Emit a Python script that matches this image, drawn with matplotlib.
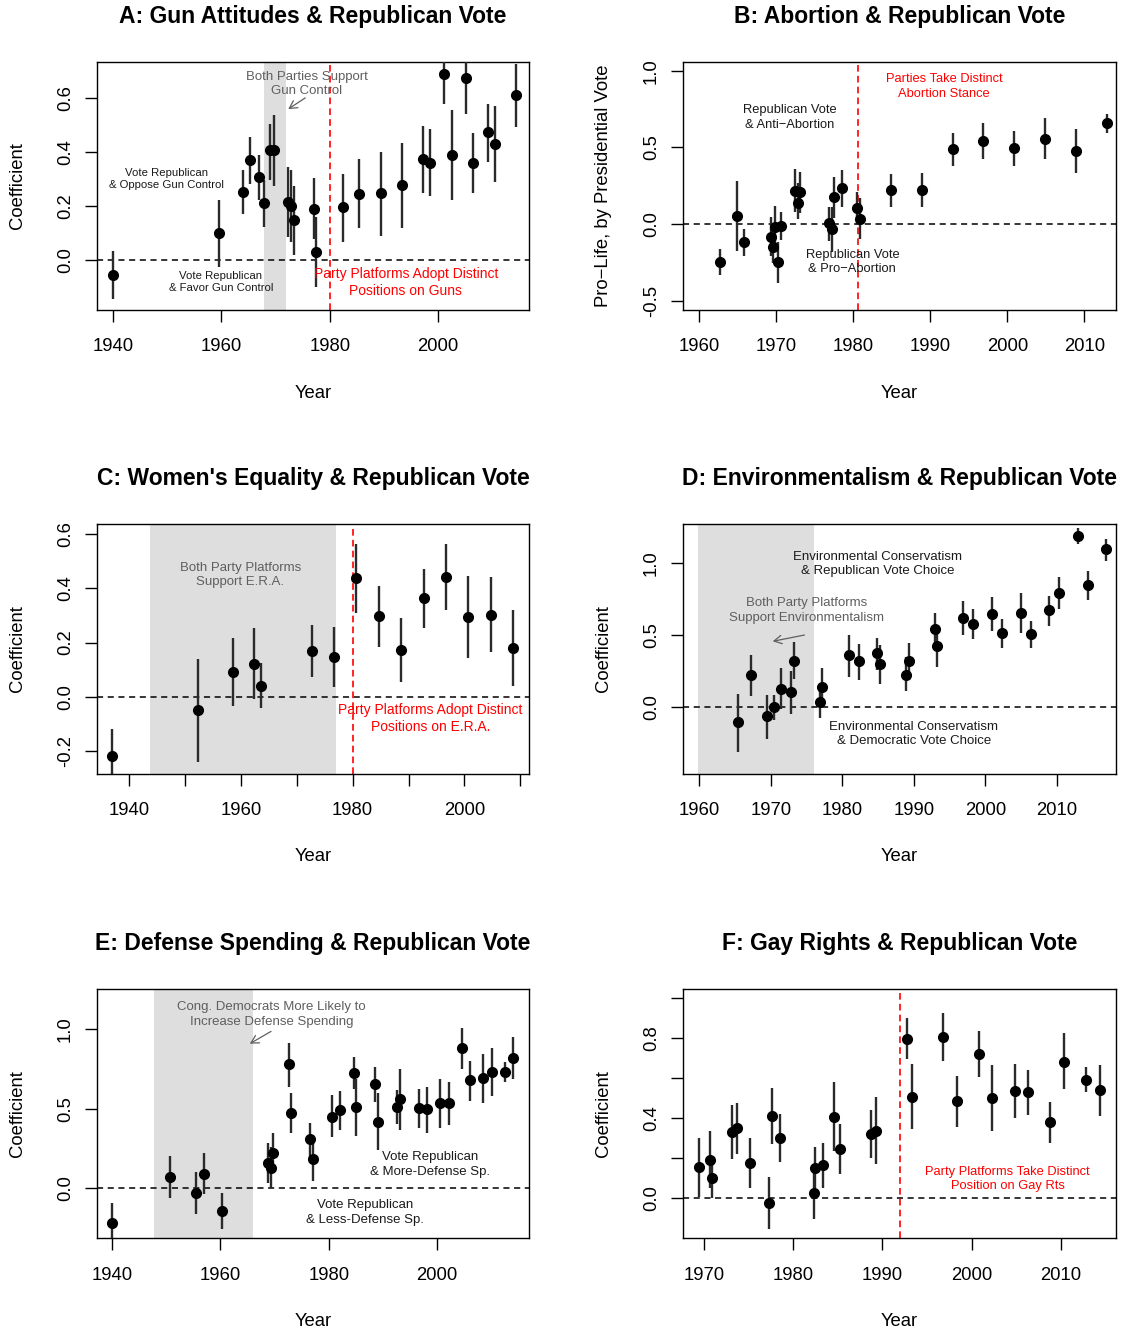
import matplotlib
matplotlib.use("Agg")
import matplotlib.pyplot as plt

plt.rcParams['font.family'] = ['Liberation Sans', 'DejaVu Sans']
plt.rcParams['axes.unicode_minus'] = False

# ---------------- Data ----------------
# A: Gun attitudes
yearsA = [1940, 1959.6, 1964, 1965.3, 1966.9, 1967.8, 1969, 1969.7, 1972.3, 1972.9, 1973.4, 1977.1, 1977.4,
          1982.4, 1985.4, 1989.4, 1993.4, 1997.1, 1998.5, 2001.1, 2002.5, 2005.2, 2006.4, 2009.2, 2010.5, 2014.4]
coefA = [-0.054, 0.10, 0.253, 0.370, 0.306, 0.211, 0.406, 0.408, 0.217, 0.201, 0.147, 0.189, 0.032,
         0.196, 0.246, 0.247, 0.278, 0.374, 0.360, 0.690, 0.389, 0.673, 0.360, 0.473, 0.430, 0.610]
loA = [-0.145, -0.024, 0.171, 0.283, 0.221, 0.124, 0.297, 0.275, 0.085, 0.069, 0.020, 0.078, -0.098,
       0.069, 0.118, 0.091, 0.121, 0.250, 0.236, 0.578, 0.223, 0.542, 0.250, 0.365, 0.288, 0.491]
hiA = [0.034, 0.223, 0.332, 0.455, 0.389, 0.297, 0.505, 0.538, 0.344, 0.332, 0.273, 0.304, 0.161,
       0.320, 0.374, 0.400, 0.433, 0.497, 0.485, 0.80, 0.554, 0.80, 0.470, 0.578, 0.572, 0.727]

# B: Abortion
yearsB = [1962.7, 1965.0, 1965.9, 1969.3, 1969.6, 1969.9, 1970.3, 1970.6, 1972.5, 1972.9, 1973.1, 1976.9, 1977.2,
          1977.5, 1978.5, 1980.5, 1980.9, 1984.9, 1988.9, 1992.9, 1996.9, 2000.9, 2004.9, 2008.9, 2012.9]
coefB = [-0.246, 0.054, -0.120, -0.083, -0.152, -0.017, -0.250, -0.011, 0.217, 0.139, 0.207, 0.004, -0.035,
         0.174, 0.233, 0.104, 0.035, 0.220, 0.220, 0.487, 0.543, 0.494, 0.554, 0.478, 0.659]
loB = [-0.331, -0.174, -0.209, -0.209, -0.257, -0.170, -0.387, -0.104, 0.080, 0.031, 0.070, -0.109, -0.181,
       0.037, 0.109, -0.007, -0.100, 0.113, 0.109, 0.380, 0.424, 0.380, 0.422, 0.335, 0.596]
hiB = [-0.163, 0.283, -0.033, 0.044, -0.057, 0.117, -0.119, 0.078, 0.357, 0.265, 0.339, 0.113, 0.113,
       0.309, 0.352, 0.211, 0.168, 0.326, 0.331, 0.592, 0.661, 0.609, 0.689, 0.620, 0.716]

# C: Women's equality
yearsC = [1936.9, 1952.4, 1958.5, 1962.4, 1963.6, 1972.7, 1976.7, 1980.6, 1984.7, 1988.7, 1992.7, 1996.7,
          2000.6, 2004.7, 2008.7]
coefC = [-0.219, -0.050, 0.091, 0.122, 0.041, 0.169, 0.147, 0.438, 0.297, 0.174, 0.364, 0.444, 0.295, 0.303, 0.181]
loC = [-0.32, -0.243, -0.034, -0.010, -0.041, 0.073, 0.037, 0.308, 0.185, 0.055, 0.253, 0.322, 0.144, 0.164, 0.040]
hiC = [-0.119, 0.139, 0.216, 0.255, 0.123, 0.265, 0.258, 0.566, 0.408, 0.290, 0.472, 0.566, 0.445, 0.443, 0.320]

# D: Environmentalism
yearsD = [1965.4, 1967.2, 1969.5, 1970.5, 1971.4, 1972.9, 1973.3, 1976.9, 1977.2, 1980.9, 1982.3, 1984.9, 1985.3,
          1988.9, 1989.3, 1992.9, 1993.3, 1996.9, 1998.3, 2000.9, 2002.3, 2004.9, 2006.3, 2008.9, 2010.3, 2012.9,
          2014.3, 2016.9]
coefD = [-0.104, 0.222, -0.062, 0.0, 0.127, 0.104, 0.323, 0.035, 0.141, 0.360, 0.319, 0.374, 0.298, 0.226, 0.319,
         0.545, 0.423, 0.619, 0.577, 0.647, 0.515, 0.653, 0.508, 0.672, 0.792, 1.185, 0.845, 1.093]
loD = [-0.310, 0.078, -0.219, -0.090, -0.009, -0.049, 0.194, -0.074, 0.014, 0.210, 0.189, 0.256, 0.164, 0.116,
       0.187, 0.435, 0.279, 0.499, 0.471, 0.527, 0.411, 0.511, 0.411, 0.563, 0.679, 1.128, 0.741, 1.012]
hiD = [0.095, 0.360, 0.083, 0.088, 0.272, 0.249, 0.453, 0.134, 0.275, 0.499, 0.441, 0.483, 0.430, 0.348, 0.443,
       0.651, 0.545, 0.735, 0.679, 0.764, 0.610, 0.788, 0.596, 0.771, 0.899, 1.238, 0.942, 1.164]

# E: Defense spending
yearsE = [1940, 1950.8, 1955.6, 1957.0, 1960.3, 1968.8, 1969.3, 1969.8, 1972.6, 1973.1, 1976.6, 1977.1, 1980.6,
          1982.1, 1984.6, 1985.1, 1988.6, 1989.1, 1992.6, 1993.1, 1996.6, 1998.1, 2000.5, 2002.1, 2004.6, 2006.1,
          2008.5, 2010.1, 2012.5, 2014.0]
coefE = [-0.216, 0.069, -0.027, 0.092, -0.143, 0.157, 0.126, 0.224, 0.780, 0.476, 0.310, 0.182, 0.451, 0.492,
         0.723, 0.509, 0.654, 0.419, 0.509, 0.560, 0.503, 0.497, 0.535, 0.535, 0.881, 0.681, 0.694, 0.733, 0.733,
         0.818]
loE = [-0.34, -0.063, -0.164, -0.036, -0.258, 0.031, 0.0, 0.094, 0.635, 0.346, 0.178, 0.048, 0.321, 0.367, 0.623,
       0.331, 0.545, 0.241, 0.404, 0.367, 0.381, 0.346, 0.381, 0.398, 0.748, 0.551, 0.538, 0.583, 0.671, 0.686]
hiE = [-0.094, 0.203, 0.101, 0.220, -0.027, 0.283, 0.262, 0.350, 0.916, 0.601, 0.413, 0.314, 0.585, 0.612, 0.828,
       0.686, 0.761, 0.598, 0.618, 0.748, 0.625, 0.639, 0.686, 0.667, 1.006, 0.801, 0.845, 0.881, 0.792, 0.950]

# F: Gay rights
yearsF = [1969.5, 1970.7, 1970.9, 1973.2, 1973.7, 1975.2, 1977.3, 1977.6, 1978.5, 1982.3, 1982.5, 1983.4, 1984.6,
          1985.2, 1988.7, 1989.3, 1992.8, 1993.3, 1996.8, 1998.3, 2000.8, 2002.3, 2004.8, 2006.3, 2008.8, 2010.3,
          2012.8, 2014.3]
coefF = [0.152, 0.188, 0.097, 0.328, 0.348, 0.173, -0.027, 0.410, 0.300, 0.022, 0.147, 0.162, 0.405, 0.245, 0.317,
         0.335, 0.795, 0.505, 0.805, 0.483, 0.718, 0.498, 0.532, 0.527, 0.378, 0.680, 0.590, 0.537]
loF = [0.005, 0.047, -0.003, 0.193, 0.218, 0.050, -0.158, 0.268, 0.177, -0.107, 0.022, 0.050, 0.235, 0.118, 0.197,
       0.168, 0.692, 0.345, 0.685, 0.355, 0.605, 0.333, 0.397, 0.413, 0.275, 0.542, 0.530, 0.410]
hiF = [0.297, 0.333, 0.180, 0.463, 0.475, 0.297, 0.102, 0.550, 0.418, 0.125, 0.255, 0.272, 0.577, 0.368, 0.438,
       0.502, 0.897, 0.667, 0.922, 0.608, 0.833, 0.663, 0.667, 0.638, 0.480, 0.822, 0.652, 0.662]

titles = ["A: Gun Attitudes & Republican Vote", "B: Abortion & Republican Vote",
          "C: Women's Equality & Republican Vote", "D: Environmentalism & Republican Vote",
          "E: Defense Spending & Republican Vote", "F: Gay Rights & Republican Vote"]
ylabels = ["Coefficient", "Pro\u2212Life, by Presidential Vote", "Coefficient", "Coefficient",
           "Coefficient", "Coefficient"]

# ---------------- Figure ----------------
W, H = 1125, 1329
fig = plt.figure(figsize=(W / 100, H / 100), dpi=100)

cols_px = [(96.7, 529.3), (682.7, 1115.7)]
rows_px = [(61.7, 310.0), (524.3, 773.7), (989.3, 1238.3)]


def make_ax(r, c):
    x0, x1 = cols_px[c]
    y0, y1 = rows_px[r]
    return fig.add_axes([x0 / W, 1 - y1 / H, (x1 - x0) / W, (y1 - y0) / H])


GRAY_TXT = '#5f5f5f'
ERR_COL = '#2a2a2a'
LS = 1.3


def panel(ax, years, coef, lo, hi, xlim, ylim, xticks, xtl, yticks, ytl, title, ylabel,
          band=None, vline=None):
    if band is not None:
        ax.axvspan(band[0], band[1], color='#dedede', lw=0, zorder=0)
    ax.axhline(0, color='black', lw=1.1, ls=(0, (4, 3)), zorder=1)
    if vline is not None:
        ax.axvline(vline, color='#ff0000', lw=1.2, ls=(0, (4, 2.5)), zorder=1)
    ax.vlines(years, lo, hi, color=ERR_COL, lw=1.7, zorder=3)
    ax.plot(years, coef, 'o', color='black', ms=7, zorder=4)
    ax.set_xlim(*xlim)
    ax.set_ylim(*ylim)
    ax.set_xticks(xticks)
    ax.set_xticklabels(xtl)
    ax.set_yticks(yticks)
    ax.set_yticklabels(ytl, rotation=90, va='center')
    ax.tick_params(axis='both', direction='out', length=8.4, width=1, labelsize=13.3, color='black')
    ax.tick_params(axis='x', pad=12)
    ax.tick_params(axis='y', pad=8)
    for s in ax.spines.values():
        s.set_linewidth(1.0)
    ax.set_title(title, fontsize=16.5, fontweight='bold', pad=28)
    ax.set_xlabel("Year", fontsize=13.3, labelpad=21)
    ax.set_ylabel(ylabel, fontsize=13.3)
    ax.yaxis.set_label_coords(-0.163, 0.5)


def fmt(vals):
    return [("%.1f" % v) for v in vals]


# A
axA = make_ax(0, 0)
panel(axA, yearsA, coefA, loA, hiA, (1937.0, 2016.8), (-0.184, 0.734),
      [1940, 1960, 1980, 2000], ["1940", "1960", "1980", "2000"],
      [0.0, 0.2, 0.4, 0.6], fmt([0.0, 0.2, 0.4, 0.6]), titles[0], ylabels[0],
      band=(1967.8, 1972.0), vline=1980.0)
axA.text(1975.8, 0.652, "Both Parties Support\nGun Control", ha='center', va='center', fontsize=9.5,
         color=GRAY_TXT, linespacing=LS, zorder=5)
axA.annotate("", xy=(1971.9, 0.553), xytext=(1975.9, 0.606),
             arrowprops=dict(arrowstyle='->,head_length=0.55,head_width=0.3', color=GRAY_TXT, lw=0.9))
axA.text(1949.9, 0.301, "Vote Republican\n& Oppose Gun Control", ha='center', va='center', fontsize=8.2,
         color='#1a1a1a', linespacing=LS)
axA.text(1959.9, -0.080, "Vote Republican\n& Favor Gun Control", ha='center', va='center', fontsize=8.2,
         color='#1a1a1a', linespacing=LS)
axA.text(1994.0, -0.082, "Party Platforms Adopt Distinct\nPositions on Guns", ha='center', va='center',
         fontsize=10, color='#ff0000', linespacing=LS, zorder=5)

# B
axB = make_ax(0, 1)
panel(axB, yearsB, coefB, loB, hiB, (1957.9, 2014.05), (-0.561, 1.059),
      [1960, 1970, 1980, 1990, 2000, 2010], ["1960", "1970", "1980", "1990", "2000", "2010"],
      [-0.5, 0.0, 0.5, 1.0], fmt([-0.5, 0.0, 0.5, 1.0]), titles[1], ylabels[1],
      vline=1980.6)
axB.text(1971.8, 0.696, "Republican Vote\n& Anti\u2212Abortion", ha='center', va='center', fontsize=9.3,
         color='#1a1a1a', linespacing=LS)
axB.text(1991.8, 0.898, "Parties Take Distinct\nAbortion Stance", ha='center', va='center', fontsize=9.3,
         color='#ff0000', linespacing=LS)
axB.text(1979.9, -0.248, "Republican Vote\n& Pro\u2212Abortion", ha='center', va='center', fontsize=9.3,
         color='#1a1a1a', linespacing=LS, zorder=5)

# C
axC = make_ax(1, 0)
ticksC = [1940, 1950, 1960, 1970, 1980, 1990, 2000, 2010]
panel(axC, yearsC, coefC, loC, hiC, (1934.2, 2011.6), (-0.285, 0.637),
      ticksC, ["1940", "", "1960", "", "1980", "", "2000", ""],
      [-0.2, 0.0, 0.2, 0.4, 0.6], fmt([-0.2, 0.0, 0.2, 0.4, 0.6]), titles[2], ylabels[2],
      band=(1943.7, 1977.1), vline=1980.0)
axC.text(1959.9, 0.450, "Both Party Platforms\nSupport E.R.A.", ha='center', va='center', fontsize=9.5,
         color=GRAY_TXT, linespacing=LS)
axC.text(1993.9, -0.080, "Party Platforms Adopt Distinct\nPositions on E.R.A.", ha='center', va='center',
         fontsize=10, color='#ff0000', linespacing=LS, zorder=5)

# D
axD = make_ax(1, 1)
panel(axD, yearsD, coefD, loD, hiD, (1957.7, 2018.2), (-0.459, 1.266),
      [1960, 1970, 1980, 1990, 2000, 2010], ["1960", "1970", "1980", "1990", "2000", "2010"],
      [0.0, 0.5, 1.0], fmt([0.0, 0.5, 1.0]), titles[3], ylabels[3],
      band=(1959.8, 1976.0))
axD.text(1984.9, 0.992, "Environmental Conservatism\n& Republican Vote Choice", ha='center', va='center',
         fontsize=9.5, color='#1a1a1a', linespacing=LS)
axD.text(1975.0, 0.669, "Both Party Platforms\nSupport Environmentalism", ha='center', va='center',
         fontsize=9.5, color=GRAY_TXT, linespacing=LS)
axD.annotate("", xy=(1969.9, 0.453), xytext=(1975.1, 0.504),
             arrowprops=dict(arrowstyle='->,head_length=0.55,head_width=0.3', color=GRAY_TXT, lw=0.9))
axD.text(1990.0, -0.185, "Environmental Conservatism\n& Democratic Vote Choice", ha='center', va='center',
         fontsize=9.5, color='#1a1a1a', linespacing=LS)

# E
axE = make_ax(2, 0)
panel(axE, yearsE, coefE, loE, hiE, (1937.2, 2017.0), (-0.314, 1.252),
      [1940, 1960, 1980, 2000], ["1940", "1960", "1980", "2000"],
      [0.0, 0.5, 1.0], fmt([0.0, 0.5, 1.0]), titles[4], ylabels[4],
      band=(1947.7, 1966.0))
axE.text(1969.5, 1.095, "Cong. Democrats More Likely to\nIncrease Defense Spending", ha='center', va='center',
         fontsize=9.5, color=GRAY_TXT, linespacing=LS)
axE.annotate("", xy=(1965.0, 0.901), xytext=(1969.8, 0.996),
             arrowprops=dict(arrowstyle='->,head_length=0.55,head_width=0.3', color=GRAY_TXT, lw=0.9))
axE.text(1998.7, 0.150, "Vote Republican\n& More-Defense Sp.", ha='center', va='center', fontsize=9.5,
         color='#1a1a1a', linespacing=LS)
axE.text(1986.7, -0.150, "Vote Republican\n& Less-Defense Sp.", ha='center', va='center', fontsize=9.5,
         color='#1a1a1a', linespacing=LS)

# F
axF = make_ax(2, 1)
panel(axF, yearsF, coefF, loF, hiF, (1967.65, 2016.1), (-0.203, 1.042),
      [1970, 1980, 1990, 2000, 2010], ["1970", "1980", "1990", "2000", "2010"],
      [0.0, 0.2, 0.4, 0.6, 0.8, 1.0], ["0.0", "", "0.4", "", "0.8", ""], titles[5], ylabels[5],
      vline=1992.0)
axF.text(2004.0, 0.094, "Party Platforms Take Distinct\nPosition on Gay Rts", ha='center', va='center',
         fontsize=9.3, color='#ff0000', linespacing=LS)

fig.savefig("out.png", dpi=100)
